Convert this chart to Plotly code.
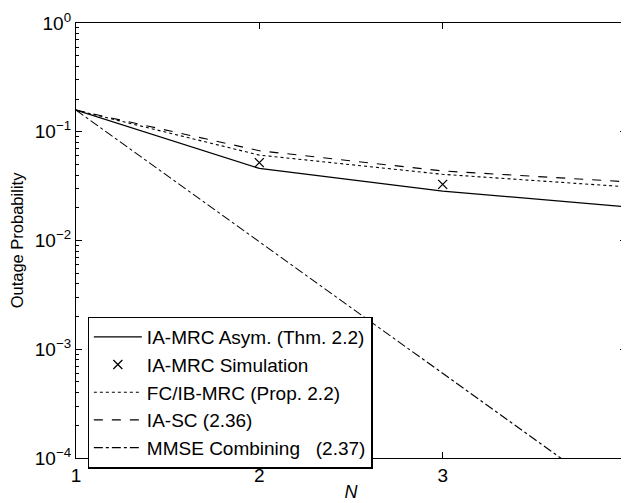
import plotly.graph_objects as go

N = [1, 2, 3, 4]
ia_mrc_asym = [0.158, 0.046, 0.0285, 0.0204]
ia_mrc_sim_N = [2, 3, 4]
ia_mrc_sim = [0.052, 0.0328, 0.0219]
fc_ib_mrc = [0.158, 0.061, 0.0406, 0.0312]
ia_sc = [0.158, 0.0669, 0.0436, 0.0347]
mmse = [0.158, 0.0098, 6.0e-4, 3.7e-5]

ytick_vals = [1e-4, 1e-3, 1e-2, 1e-1, 1]
ytick_text = ["10<sup>\u22124</sup>", "10<sup>\u22123</sup>", "10<sup>\u22122</sup>",
              "10<sup>\u22121</sup>", "10<sup>0</sup>"]
minor_vals = [m * 10**e for e in range(-4, 0) for m in range(2, 10)]

font = "Liberation Sans, Arial, Helvetica, sans-serif"
fig = go.Figure()
fig.add_trace(go.Scatter(x=N, y=ia_mrc_asym, mode="lines", name="IA-MRC Asym. (Thm. 2.2)",
                         line=dict(color="black", width=1.3)))
fig.add_trace(go.Scatter(x=ia_mrc_sim_N, y=ia_mrc_sim, mode="markers", name="IA-MRC Simulation",
                         marker=dict(symbol="x-thin", size=9, line=dict(color="black", width=1.3)),
                         cliponaxis=False))
fig.add_trace(go.Scatter(x=N, y=fc_ib_mrc, mode="lines", name="FC/IB-MRC (Prop. 2.2)",
                         line=dict(color="black", width=1.1, dash="dot")))
fig.add_trace(go.Scatter(x=N, y=ia_sc, mode="lines", name="IA-SC (2.36)",
                         line=dict(color="black", width=1.1, dash="dash")))
fig.add_trace(go.Scatter(x=N, y=mmse, mode="lines", name="MMSE Combining\u00a0\u00a0\u00a0(2.37)",
                         line=dict(color="black", width=1.1, dash="dashdot")))

axis_common = dict(showline=True, linecolor="black", linewidth=1.3, mirror="ticks",
                   ticks="inside", tickcolor="black", tickwidth=1.2, showgrid=False, zeroline=False,
                   automargin=False,
                   tickfont=dict(size=19, color="black", family=font))
fig.update_xaxes(range=[1, 4], tickvals=[1, 2, 3, 4], ticklen=6, ticklabeloverflow="allow",
                 title=dict(text="<i>N</i>", font=dict(size=18, color="black", family=font), standoff=0),
                 **axis_common)
fig.update_yaxes(type="log", range=[-4, 0], tickvals=ytick_vals, ticktext=ytick_text, ticklen=6,
                 minor=dict(tickvals=minor_vals, ticks="inside", ticklen=3, tickcolor="black"),
                 title=dict(text="Outage Probability", font=dict(size=16.5, color="black", family=font), standoff=10),
                 **axis_common)

# the page body adds an 8px offset; figure size and margins compensate so the
# plot area lands where the reference has it without scrollbars
fig.update_layout(
    width=621, height=495,
    margin=dict(l=68, r=3, t=15, b=45),
    paper_bgcolor="white", plot_bgcolor="white",
    font=dict(family=font, size=18, color="black"),
    showlegend=True,
    legend=dict(x=0.021, y=0.325, xanchor="left", yanchor="top",
                bgcolor="white", bordercolor="black", borderwidth=1.3,
                font=dict(size=19, color="black", family=font),
                tracegroupgap=0, itemwidth=48),
)
fig.write_html("out.html")
